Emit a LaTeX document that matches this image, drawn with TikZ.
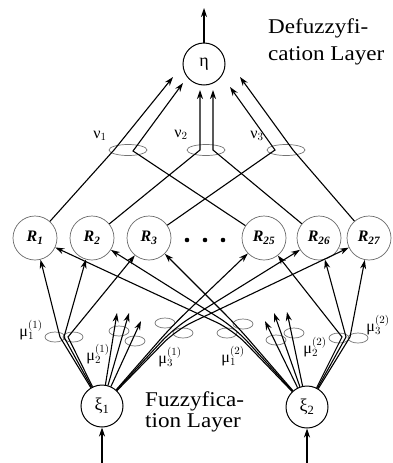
\documentclass[tikz,border=0pt]{standalone}
\usepackage{fontspec}
\setmainfont{Liberation Serif}
\newfontfamily\layerfont{Liberation Serif}[FakeStretch=1.1]
\usepackage{tikz}
\usetikzlibrary{arrows.meta, positioning, shapes.geometric}
\definecolor{ringgray}{RGB}{105,105,105}
\definecolor{ellgray}{RGB}{115,115,115}

\begin{document}
\begin{tikzpicture}[
    x=1pt, y=-1pt,
    font=\fontsize{16}{16}\selectfont,
    unit/.style={circle, draw, line width=1pt, minimum size=42pt, inner sep=0pt, font=\fontsize{18}{18}\selectfont},
    rulenode/.style={circle, draw=ringgray, line width=0.7pt, minimum size=44pt, inner sep=0pt, font=\fontsize{16}{16}\selectfont\bfseries\itshape},
    memb/.style={ellipse, draw=ellgray, line width=0.7pt, minimum width=20pt, minimum height=10pt, inner sep=0pt},
    wgt/.style={ellipse, draw=ellgray, line width=0.7pt, minimum width=38pt, minimum height=11pt, inner sep=0pt},
    link/.style={line width=1.1pt},
    arr/.style={link, -{Stealth[length=9pt, width=6pt]}},
    arch/.style={rounded corners=18pt},
    layer/.style={anchor=north west, align=left, inner sep=0pt},
  ]
  \useasboundingbox (0,0) rectangle (392,463);

  % output layer
  \node[unit] (eta) at (204,64) {η};
  \coordinate (out) at (204,8);
  \node[layer, font=\layerfont\fontsize{21}{27}\selectfont] (defuzz) at (268,19) {Defuzzyfi-\\cation Layer};

  % rule layer
  \node[rulenode] (R1) at (35,238) {R\textsubscript{1}};
  \node[rulenode] (R2) at (92,238) {R\textsubscript{2}};
  \node[rulenode] (R3) at (149,238) {R\textsubscript{3}};
  \node[rulenode] (R25) at (264,238) {R\textsubscript{25}};
  \node[rulenode] (R26) at (319,238) {R\textsubscript{26}};
  \node[rulenode] (R27) at (369,238) {R\textsubscript{27}};
  \foreach \dx in {187,205,223} \fill (\dx,240) circle (2.3pt);

  % weights nu
  \node[wgt] (nu1) at (128,150) {};
  \node[wgt] (nu2) at (206,150) {};
  \node[wgt] (nu3) at (286,150) {};
  \node (nu1lab) at (100,136) {$\mbox{ν}_1$};
  \node (nu2lab) at (181,135) {$\mbox{ν}_2$};
  \node (nu3lab) at (257,136) {$\mbox{ν}_3$};
  \coordinate (a1) at (114,150);
  \coordinate (b1) at (133,151);
  \coordinate (a2) at (200,150);
  \coordinate (b2) at (213,150);
  \coordinate (a3) at (275,150);
  \coordinate (b3) at (293,150);
  \coordinate (eta1) at (173,77);
  \coordinate (eta2) at (183,83);
  \coordinate (eta3) at (200,90);
  \coordinate (eta4) at (213,90);
  \coordinate (eta5) at (230,87);
  \coordinate (eta6) at (240,77);

  % input layer
  \node[unit] (xi1) at (102,406) {ξ\textsubscript{1}};
  \node[unit] (xi2) at (307,407) {ξ\textsubscript{2}};
  \coordinate (in1) at (102,463);
  \coordinate (in2) at (307,463);
  \node[layer, font=\layerfont\fontsize{21}{21}\selectfont] (fuzz) at (145,392) {Fuzzyfica-\\tion Layer};

  % membership functions
  \node[memb] (mu11a) at (55,337) {};
  \node[memb] (mu11b) at (73,337) {};
  \node[memb] (mu21a) at (119,331) {};
  \node[memb] (mu21b) at (135,341) {};
  \node[memb] (mu31a) at (165,323) {};
  \node[memb] (mu31b) at (183,333) {};
  \node[memb] (mu12a) at (227,333) {};
  \node[memb] (mu12b) at (243,324) {};
  \node[memb] (mu22a) at (276,340) {};
  \node[memb] (mu22b) at (294,333) {};
  \node[memb] (mu32a) at (339,338) {};
  \node[memb] (mu32b) at (358,338) {};
  \node (mu11lab) at (31,330) {$\mbox{μ}_1^{(1)}$};
  \node (mu21lab) at (98,354) {$\mbox{μ}_2^{(1)}$};
  \node (mu31lab) at (170,357) {$\mbox{μ}_3^{(1)}$};
  \node (mu12lab) at (233,356) {$\mbox{μ}_1^{(2)}$};
  \node (mu22lab) at (315,347) {$\mbox{μ}_2^{(2)}$};
  \node (mu32lab) at (378,325) {$\mbox{μ}_3^{(2)}$};
  \coordinate (p11a) at (60,337);
  \coordinate (p11b) at (64,337);
  \coordinate (p11c) at (68,337);
  \coordinate (q21a) at (117,313);
  \coordinate (q21b) at (129,313);
  \coordinate (q21c) at (141,321);
  \coordinate (p31a) at (172,326);
  \coordinate (p31b) at (174,328);
  \coordinate (p31c) at (176,330);
  \coordinate (p12a) at (233,330);
  \coordinate (p12b) at (235,328);
  \coordinate (p12c) at (237,326);
  \coordinate (q22a) at (265,321);
  \coordinate (q22b) at (274,313);
  \coordinate (q22c) at (287,312);
  \coordinate (p32a) at (342,337);
  \coordinate (p32b) at (346,337);
  \coordinate (p32c) at (350,337);

  % connections
  \draw[arr] (eta) -- (out);
  \draw[arr] (R1) -- (a1) -- (eta1);
  \draw[arr] (R25) -- (b1) -- (eta2);
  \draw[arr] (R2) -- (a2) -- (eta3);
  \draw[arr] (R26) -- (b2) -- (eta4);
  \draw[arr] (R3) -- (a3) -- (eta5);
  \draw[arr] (R27) -- (b3) -- (eta6);

  \draw[arr] (in1) -- (xi1);
  \draw[arr] (in2) -- (xi2);

  \draw[arr] (xi1) -- (p11a) -- (R1);
  \draw[arr] (xi1) -- (p11b) -- (R2);
  \draw[arr] (xi1) -- (p11c) -- (R3);
  \draw[arr] (xi1) -- (q21a);
  \draw[arr] (xi1) -- (q21b);
  \draw[arr] (xi1) -- (q21c);
  \draw[arr, arch] (xi1) -- (p31a) -- (R25);
  \draw[arr, arch] (xi1) -- (p31b) -- (R26);
  \draw[arr, arch] (xi1) -- (p31c) -- (R27);

  \draw[arr, arch] (xi2) -- (p12a) -- (R1);
  \draw[arr, arch] (xi2) -- (p12b) -- (R2);
  \draw[arr, arch] (xi2) -- (p12c) -- (R3);
  \draw[arr] (xi2) -- (q22a);
  \draw[arr] (xi2) -- (q22b);
  \draw[arr] (xi2) -- (q22c);
  \draw[arr] (xi2) -- (p32a) -- (R25);
  \draw[arr] (xi2) -- (p32b) -- (R26);
  \draw[arr] (xi2) -- (p32c) -- (R27);
\end{tikzpicture}
\end{document}
